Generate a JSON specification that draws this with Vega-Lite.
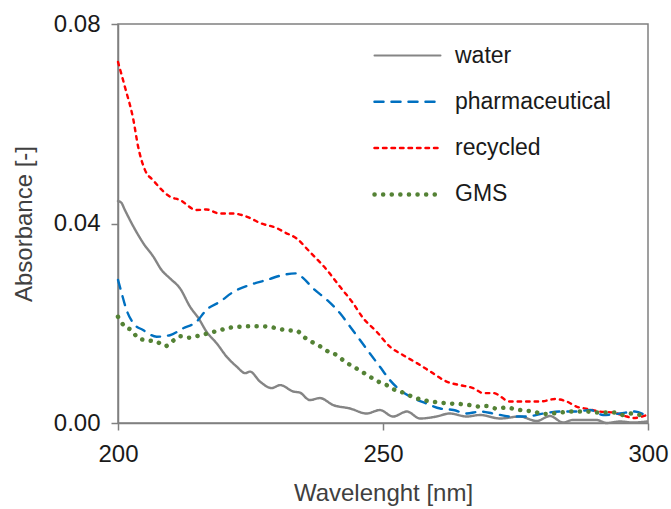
{
  "$schema": "https://vega.github.io/schema/vega-lite/v6.json",
  "autosize": {"type": "none"},
  "padding": {"left": 118, "top": 24, "right": 23, "bottom": 86},
  "width": 530,
  "height": 399,
  "background": "white",
  "config": {
    "font": "Liberation Sans",
    "view": {"stroke": "#808080", "strokeWidth": 1.5},
    "axis": {"grid": false, "domainColor": "#808080", "domainWidth": 1.5, "tickColor": "#808080", "tickWidth": 1.5, "tickSize": 7, "labelColor": "#1a1a1a", "titleColor": "#404040", "labelFontSize": 24, "titleFontSize": 24, "titleFontWeight": "normal", "labelFlush": false}
  },
  "data": {"values": [
    {"w":200,"a":0.0724,"s":"recycled"},{"w":201.3,"a":0.0674,"s":"recycled"},{"w":202.9,"a":0.0608,"s":"recycled"},{"w":203.8,"a":0.0554,"s":"recycled"},{"w":205.1,"a":0.0507,"s":"recycled"},{"w":206.6,"a":0.0487,"s":"recycled"},{"w":209.8,"a":0.0454,"s":"recycled"},{"w":211.7,"a":0.0447,"s":"recycled"},{"w":214.8,"a":0.0427,"s":"recycled"},{"w":216.7,"a":0.0428,"s":"recycled"},{"w":219.2,"a":0.042,"s":"recycled"},{"w":221.7,"a":0.042,"s":"recycled"},{"w":224.9,"a":0.0411,"s":"recycled"},{"w":226.8,"a":0.0401,"s":"recycled"},{"w":229.9,"a":0.0391,"s":"recycled"},{"w":231.5,"a":0.0382,"s":"recycled"},{"w":233.7,"a":0.037,"s":"recycled"},{"w":236.2,"a":0.0343,"s":"recycled"},{"w":239.4,"a":0.0307,"s":"recycled"},{"w":241.9,"a":0.0273,"s":"recycled"},{"w":244.3,"a":0.0241,"s":"recycled"},{"w":246.2,"a":0.0211,"s":"recycled"},{"w":248.8,"a":0.0183,"s":"recycled"},{"w":251.3,"a":0.0153,"s":"recycled"},{"w":253.8,"a":0.0136,"s":"recycled"},{"w":256.4,"a":0.012,"s":"recycled"},{"w":259.4,"a":0.01,"s":"recycled"},{"w":262,"a":0.0083,"s":"recycled"},{"w":264.5,"a":0.0076,"s":"recycled"},{"w":267,"a":0.007,"s":"recycled"},{"w":268.9,"a":0.006,"s":"recycled"},{"w":270.8,"a":0.006,"s":"recycled"},{"w":274,"a":0.0043,"s":"recycled"},{"w":277.1,"a":0.0043,"s":"recycled"},{"w":279.6,"a":0.0043,"s":"recycled"},{"w":282.5,"a":0.0048,"s":"recycled"},{"w":284.7,"a":0.0043,"s":"recycled"},{"w":286.5,"a":0.0033,"s":"recycled"},{"w":288.7,"a":0.0028,"s":"recycled"},{"w":290.9,"a":0.0023,"s":"recycled"},{"w":293.4,"a":0.0021,"s":"recycled"},{"w":296,"a":0.0013,"s":"recycled"},{"w":297.2,"a":0.001,"s":"recycled"},{"w":299.8,"a":0.0016,"s":"recycled"},

    {"w":200,"a":0.0445,"s":"water"},{"w":200.6,"a":0.0442,"s":"water"},{"w":201.3,"a":0.0427,"s":"water"},{"w":202.9,"a":0.0394,"s":"water"},{"w":204.8,"a":0.036,"s":"water"},{"w":206.7,"a":0.0333,"s":"water"},{"w":208.2,"a":0.0307,"s":"water"},{"w":209.8,"a":0.029,"s":"water"},{"w":211.7,"a":0.027,"s":"water"},{"w":213.6,"a":0.0233,"s":"water"},{"w":215.2,"a":0.021,"s":"water"},{"w":216.7,"a":0.0183,"s":"water"},{"w":218.6,"a":0.016,"s":"water"},{"w":220.5,"a":0.0133,"s":"water"},{"w":222.4,"a":0.0113,"s":"water"},{"w":224,"a":0.01,"s":"water"},{"w":224.9,"a":0.0103,"s":"water"},{"w":226.8,"a":0.0083,"s":"water"},{"w":229,"a":0.007,"s":"water"},{"w":230.6,"a":0.0076,"s":"water"},{"w":233.1,"a":0.0063,"s":"water"},{"w":234.3,"a":0.0061,"s":"water"},{"w":236.2,"a":0.0046,"s":"water"},{"w":238.1,"a":0.005,"s":"water"},{"w":240.6,"a":0.0036,"s":"water"},{"w":243.8,"a":0.0029,"s":"water"},{"w":246.9,"a":0.0019,"s":"water"},{"w":249.4,"a":0.0026,"s":"water"},{"w":251.9,"a":0.0013,"s":"water"},{"w":254.5,"a":0.0023,"s":"water"},{"w":257,"a":0.0009,"s":"water"},{"w":260.1,"a":0.0013,"s":"water"},{"w":262.6,"a":0.0019,"s":"water"},{"w":265.8,"a":0.0013,"s":"water"},{"w":268.3,"a":0.0016,"s":"water"},{"w":272.1,"a":0.0009,"s":"water"},{"w":275.8,"a":0.0013,"s":"water"},{"w":279,"a":0.0004,"s":"water"},{"w":281.5,"a":0.0014,"s":"water"},{"w":284,"a":0.0001,"s":"water"},{"w":285.8,"a":0.0006,"s":"water"},{"w":288.4,"a":0.0006,"s":"water"},{"w":290.3,"a":0.0006,"s":"water"},{"w":292.2,"a":0.0,"s":"water"},{"w":294.7,"a":0.0003,"s":"water"},{"w":297.2,"a":0.0001,"s":"water"},{"w":299.8,"a":0.0003,"s":"water"},

    {"w":200,"a":0.0287,"s":"pharmaceutical"},{"w":200.7,"a":0.026,"s":"pharmaceutical"},{"w":201.6,"a":0.0227,"s":"pharmaceutical"},{"w":202.9,"a":0.02,"s":"pharmaceutical"},{"w":204.8,"a":0.0186,"s":"pharmaceutical"},{"w":207.3,"a":0.0173,"s":"pharmaceutical"},{"w":209.8,"a":0.0176,"s":"pharmaceutical"},{"w":212.3,"a":0.019,"s":"pharmaceutical"},{"w":214.8,"a":0.0203,"s":"pharmaceutical"},{"w":216.7,"a":0.0227,"s":"pharmaceutical"},{"w":219.2,"a":0.0243,"s":"pharmaceutical"},{"w":221.8,"a":0.0263,"s":"pharmaceutical"},{"w":224.9,"a":0.0277,"s":"pharmaceutical"},{"w":228.1,"a":0.0287,"s":"pharmaceutical"},{"w":231.2,"a":0.0297,"s":"pharmaceutical"},{"w":233.7,"a":0.03,"s":"pharmaceutical"},{"w":235,"a":0.029,"s":"pharmaceutical"},{"w":236.8,"a":0.027,"s":"pharmaceutical"},{"w":239.4,"a":0.0247,"s":"pharmaceutical"},{"w":241.9,"a":0.022,"s":"pharmaceutical"},{"w":243.8,"a":0.0193,"s":"pharmaceutical"},{"w":245.7,"a":0.0166,"s":"pharmaceutical"},{"w":247.5,"a":0.014,"s":"pharmaceutical"},{"w":249.4,"a":0.0113,"s":"pharmaceutical"},{"w":251.3,"a":0.0086,"s":"pharmaceutical"},{"w":253.2,"a":0.0066,"s":"pharmaceutical"},{"w":255.7,"a":0.005,"s":"pharmaceutical"},{"w":258.2,"a":0.0039,"s":"pharmaceutical"},{"w":260.8,"a":0.0029,"s":"pharmaceutical"},{"w":263.3,"a":0.0026,"s":"pharmaceutical"},{"w":265.8,"a":0.0019,"s":"pharmaceutical"},{"w":268.3,"a":0.0023,"s":"pharmaceutical"},{"w":270.8,"a":0.0019,"s":"pharmaceutical"},{"w":274,"a":0.0013,"s":"pharmaceutical"},{"w":277.1,"a":0.0013,"s":"pharmaceutical"},{"w":280.2,"a":0.0019,"s":"pharmaceutical"},{"w":283.4,"a":0.0023,"s":"pharmaceutical"},{"w":286.5,"a":0.0023,"s":"pharmaceutical"},{"w":289.1,"a":0.0026,"s":"pharmaceutical"},{"w":291.5,"a":0.0016,"s":"pharmaceutical"},{"w":294.7,"a":0.0019,"s":"pharmaceutical"},{"w":297.5,"a":0.0023,"s":"pharmaceutical"},{"w":299.8,"a":0.0013,"s":"pharmaceutical"},

    {"w":200,"a":0.0213,"s":"GMS"},{"w":201.3,"a":0.0193,"s":"GMS"},{"w":202.6,"a":0.0186,"s":"GMS"},{"w":203.8,"a":0.017,"s":"GMS"},{"w":205.4,"a":0.0166,"s":"GMS"},{"w":207.3,"a":0.0163,"s":"GMS"},{"w":208.9,"a":0.0154,"s":"GMS"},{"w":210.4,"a":0.0165,"s":"GMS"},{"w":211.7,"a":0.0174,"s":"GMS"},{"w":213.3,"a":0.0171,"s":"GMS"},{"w":214.8,"a":0.0174,"s":"GMS"},{"w":217.4,"a":0.0181,"s":"GMS"},{"w":219.2,"a":0.0186,"s":"GMS"},{"w":221.1,"a":0.0191,"s":"GMS"},{"w":223,"a":0.0193,"s":"GMS"},{"w":224.6,"a":0.0194,"s":"GMS"},{"w":226.5,"a":0.0194,"s":"GMS"},{"w":228.4,"a":0.0193,"s":"GMS"},{"w":229.9,"a":0.019,"s":"GMS"},{"w":231.8,"a":0.0186,"s":"GMS"},{"w":233.7,"a":0.0185,"s":"GMS"},{"w":235,"a":0.0173,"s":"GMS"},{"w":236.5,"a":0.0163,"s":"GMS"},{"w":238.1,"a":0.0154,"s":"GMS"},{"w":239.7,"a":0.0143,"s":"GMS"},{"w":241.3,"a":0.0136,"s":"GMS"},{"w":242.8,"a":0.0123,"s":"GMS"},{"w":244.4,"a":0.0113,"s":"GMS"},{"w":246,"a":0.0103,"s":"GMS"},{"w":247.5,"a":0.0093,"s":"GMS"},{"w":249.1,"a":0.0083,"s":"GMS"},{"w":250.7,"a":0.0076,"s":"GMS"},{"w":252.3,"a":0.0066,"s":"GMS"},{"w":253.8,"a":0.0061,"s":"GMS"},{"w":255.7,"a":0.0052,"s":"GMS"},{"w":257.6,"a":0.0046,"s":"GMS"},{"w":259.2,"a":0.0043,"s":"GMS"},{"w":260.8,"a":0.0041,"s":"GMS"},{"w":262.6,"a":0.0039,"s":"GMS"},{"w":264.5,"a":0.0038,"s":"GMS"},{"w":266.4,"a":0.0036,"s":"GMS"},{"w":268.3,"a":0.0033,"s":"GMS"},{"w":269.5,"a":0.0034,"s":"GMS"},{"w":271.4,"a":0.0029,"s":"GMS"},{"w":273.3,"a":0.0031,"s":"GMS"},{"w":275.2,"a":0.0027,"s":"GMS"},{"w":276.8,"a":0.0025,"s":"GMS"},{"w":278.4,"a":0.0023,"s":"GMS"},{"w":280.2,"a":0.0018,"s":"GMS"},{"w":281.8,"a":0.0019,"s":"GMS"},{"w":283.4,"a":0.0021,"s":"GMS"},{"w":285.3,"a":0.0023,"s":"GMS"},{"w":286.8,"a":0.0023,"s":"GMS"},{"w":288.4,"a":0.0023,"s":"GMS"},{"w":290.3,"a":0.0021,"s":"GMS"},{"w":292.2,"a":0.0021,"s":"GMS"},{"w":293.8,"a":0.0021,"s":"GMS"},{"w":295.3,"a":0.0016,"s":"GMS"},{"w":296.9,"a":0.0019,"s":"GMS"},{"w":298.5,"a":0.0016,"s":"GMS"}
  ]},
  "encoding": {
    "x": {"field": "w", "type": "quantitative", "scale": {"domain": [200, 300], "nice": false}, "axis": {"values": [200, 250, 300], "title": "Wavelenght [nm]", "labelPadding": 12, "titlePadding": 15}},
    "y": {"field": "a", "type": "quantitative", "scale": {"domain": [0, 0.08], "nice": false}, "axis": {"values": [0, 0.04, 0.08], "format": ".2f", "title": "Absorbance [-]", "labelPadding": 11, "titlePadding": 17}},
    "color": {"field": "s", "type": "nominal", "sort": ["water", "pharmaceutical", "recycled", "GMS"],
      "scale": {"domain": ["water", "pharmaceutical", "recycled", "GMS"], "range": ["#858585", "#0070c0", "#ff0000", "#548235"]},
      "legend": {"title": null, "orient": "none", "legendX": 278, "legendY": 20, "symbolType": "stroke", "symbolSize": 4356, "labelFontSize": 23, "labelColor": "#1a1a1a", "labelOffset": 36, "rowPadding": 22.3,
        "encode": {"symbols": {"update": {"strokeWidth": {"signal": "datum.value === 'GMS' ? 4.5 : (datum.value === 'water' ? 2 : 2.5)"}, "strokeCap": {"value": "round"}}}}}},
    "strokeDash": {"field": "s", "type": "nominal", "sort": ["water", "pharmaceutical", "recycled", "GMS"],
      "scale": {"domain": ["water", "pharmaceutical", "recycled", "GMS"], "range": [[1, 0], [9, 8], [3.5, 5], [0.1, 8.5]]}}
  },
  "layer": [
    {"transform": [{"filter": "datum.s !== 'GMS'"}],
     "mark": {"type": "line", "strokeCap": "round", "strokeJoin": "round", "interpolate": "monotone", "strokeWidth": 2.4}},
    {"transform": [{"filter": "datum.s === 'GMS'"}],
     "mark": {"type": "line", "strokeCap": "round", "strokeJoin": "round", "interpolate": "monotone", "strokeWidth": 4.5}}
  ]
}
